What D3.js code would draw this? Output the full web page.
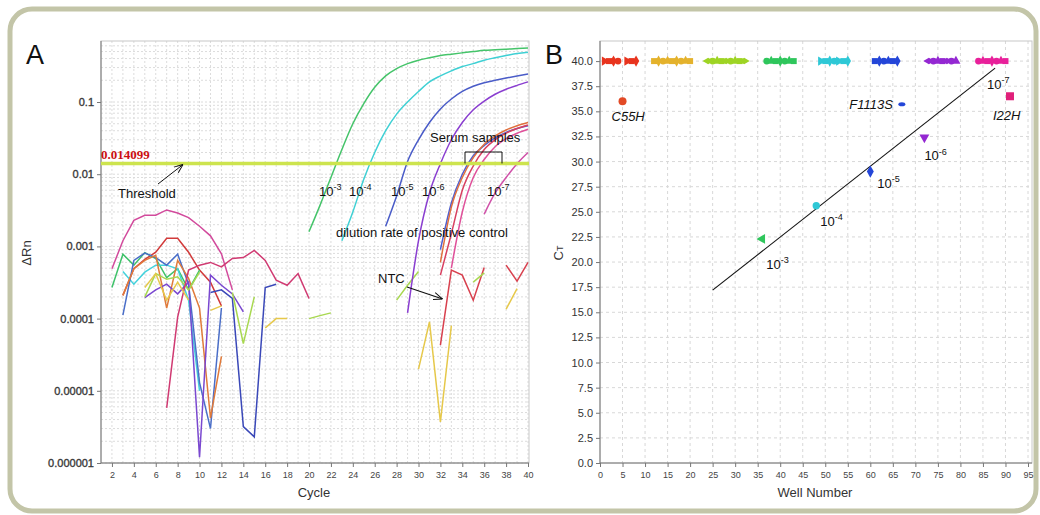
<!DOCTYPE html>
<html>
<head>
<meta charset="utf-8">
<script src="https://cdn.jsdelivr.net/npm/d3@7"></script>
<style>
body { margin: 0; background: #fff; }
svg text { font-family: "Liberation Sans", Arial, sans-serif; }
</style>
</head>
<body>
<svg id="chart" width="1040" height="515"></svg>
<script>
// ---------- panel A data : [cycle, deltaRn] ----------
var thresholdValue = 0.014099;
var ampTicks = [0.1, 0.01, 0.001, 0.0001, 0.00001, 0.000001];
var ampTickLabels = ["0.1", "0.01", "0.001", "0.0001", "0.00001", "0.000001"];
var cycleTicks = [2,4,6,8,10,12,14,16,18,20,22,24,26,28,30,32,34,36,38,40];

var dil3 = [[20,0.0016],[21,0.0037],[22,0.009],[23,0.022],[24,0.05],[25,0.095],[26,0.16],[27,0.23],[28,0.29],[29,0.34],[30,0.38],[31,0.41],[32,0.44],[33,0.46],[34,0.48],[35,0.5],[36,0.52],[37,0.53],[38,0.54],[39,0.55],[40,0.56]];
var dil4 = [[23,0.0012],[24,0.003],[25,0.0085],[26,0.02],[27,0.04],[28,0.068],[29,0.1],[30,0.14],[31,0.19],[32,0.23],[33,0.27],[34,0.31],[35,0.34],[36,0.38],[37,0.41],[38,0.44],[39,0.47],[40,0.49]];
var dil5 = [[27,0.0019],[28,0.005],[29,0.015],[30,0.03],[31,0.052],[32,0.08],[33,0.11],[34,0.14],[35,0.165],[36,0.185],[37,0.2],[38,0.215],[39,0.23],[40,0.245]];
var dil6 = [[29,0.00012],[30,0.0012],[31,0.0055],[32,0.014],[33,0.03],[34,0.052],[35,0.078],[36,0.103],[37,0.128],[38,0.15],[39,0.17],[40,0.19]];
var dil7 = [[36,0.0028],[37,0.0055],[38,0.009],[39,0.014],[40,0.02]];
var serum1 = [[32,0.0009],[33,0.004],[34,0.01],[35,0.018],[36,0.025],[37,0.032],[38,0.038],[39,0.043],[40,0.047]];
var serum2 = [[32,0.0006],[33,0.0035],[34,0.009],[35,0.017],[36,0.026],[37,0.034],[38,0.041],[39,0.047],[40,0.052]];
var serum3 = [[32,0.0004],[33,0.0015],[34,0.006],[35,0.013],[36,0.022],[37,0.03],[38,0.037],[39,0.043],[40,0.048]];
var serum4 = [[33,0.0005],[34,0.003],[35,0.009],[36,0.016],[37,0.024],[38,0.031],[39,0.037],[40,0.042]];

// baseline noise and NTC wells
var noiseMagenta = [[2,0.00049],[3,0.0012],[4,0.0023],[5,0.0027],[6,0.0027],[7,0.0032],[8,0.0029],[9,0.0025],[10,0.0019],[11,0.0014],[12,0.00079],[13,0.00025]];
var noiseCrimson = [[3,0.00021],[4,0.00049],[5,0.00066],[6,0.00083],[7,0.0013],[8,0.0013],[9,0.00083],[10,0.00047],[11,0.00032],[12,0.00015]];
var noiseGreen = [[2,0.00027],[3,0.00078],[4,0.00055],[5,0.00082],[6,0.00068],[7,0.00037],[8,0.00049],[9,0.00025],[10,0.00047]];
var noiseCyan = [[3,0.00045],[4,0.0003],[5,0.00044],[6,0.00055],[7,0.00055],[8,0.00049],[9,0.00018],[10,0.00001]];
var noiseBlue = [[3,0.000112],[4,0.00064],[5,0.00081],[6,0.0007],[7,0.00055],[8,0.00078],[9,0.0003],[10,0.000013],[11,0.000003],[12,0.00014]];
var noiseOrange = [[3,0.00021],[4,0.00049],[5,0.00064],[6,0.00075],[7,0.00014],[8,0.00064],[9,0.00036],[10,0.00014],[11,0.0000042],[12,0.00003]];
var noiseViolet = [[5,0.000195],[6,0.00025],[7,0.0003],[8,0.00022],[9,0.00032],[10,0.0000012],[11,0.0004],[12,0.00029],[13,0.00022],[14,0.000124]];
var noiseNavy = [[11,0.00023],[12,0.00025],[13,0.00019],[14,0.0000032],[15,0.0000023],[16,0.00027],[17,0.0003]];
var noiseLime1 = [[5,0.0002],[6,0.00042],[7,0.00035],[8,0.00038],[9,0.00025],[10,0.00044]];
var noiseLime2 = [[13,0.00023],[14,0.000045],[15,0.0002]];
var noisePink = [[7,0.0000058],[8,0.000105],[9,0.00047],[10,0.00055],[11,0.0006],[12,0.00052],[13,0.00068],[14,0.0007],[15,0.00088],[16,0.00064],[17,0.00034],[18,0.00029],[19,0.00042],[20,0.00019]];
var noiseYellow1 = [[5,0.00027],[6,0.00042],[7,0.00018],[8,0.00032],[9,0.00018]];
var noiseYellow2 = [[11,0.00013],[12,0.00015]];
var noiseYellow3 = [[16,0.000074],[17,0.0001],[18,0.0001]];
var noiseLime3 = [[20,0.0001],[21,0.00011],[22,0.00012]];
var ntcLime1 = [[28,0.00018],[29,0.00029],[30,0.00045]];
var ntcYellow1 = [[30,0.00002],[31,0.00009],[32,0.0000037],[33,0.00008]];
var ntcRed1 = [[32,0.000043],[33,0.00047],[34,0.0004],[35,0.00018],[36,0.00051]];
var ntcLime2 = [[35,0.00032],[36,0.00043]];
var ntcRed2 = [[38,0.00055],[39,0.00033],[40,0.0006]];
var ntcYellow2 = [[38,0.000135],[39,0.00026]];

// ---------- panel B data ----------
var wellTicks = [0,5,10,15,20,25,30,35,40,45,50,55,60,65,70,75,80,85,90,95];
var ctTicks = [0,2.5,5,7.5,10,12.5,15,17.5,20,22.5,25,27.5,30,32.5,35,37.5,40];
var undetCt = 40;
var undetGroups = [
  [1,2,3,4,6,7,8],
  [12,13,14,15,16,17,18,19,20],
  [24,25,26,27,28,29,30,31,32],
  [37,38,39,40,41,42,43],
  [49,50,51,52,53,54,55],
  [61,62,63,64,65,66],
  [73,74,75,76,77,78,79],
  [84,85,86,87,88,89,90]
];
var groupColors = ["#e8341e","#e4b22c","#9ed424","#2fc65c","#2ec8d6","#2446d8","#9428d2","#e8209a"];
var stdWells = [36, 48, 60, 72];
var stdCt = [22.3, 25.6, 29.0, 32.4];
var stdExp = ["-3", "-4", "-5", "-6"];
var mutWells = [5, 67, 91];
var mutCt = [36.0, 35.7, 36.5];
var mutNames = ["C55H", "F1113S", "I22H"];
var fitWells = [25, 87.7];
var fitCt = [17.2, 39.3];

var svg = d3.select("#chart");
var FONT = "'Liberation Sans', Arial, sans-serif";

// outer frame
svg.append("rect")
  .attr("x", 10).attr("y", 9).attr("width", 1026).attr("height", 502)
  .attr("rx", 22).attr("fill", "none")
  .attr("stroke", "#c3c5a8").attr("stroke-width", 5);

// ================= Panel A =================
var xA = d3.scaleLinear().domain([1, 40]).range([101, 528]);
var yA = d3.scaleLog().domain([1e-6, 0.7]).range([463, 41]);

var gA = svg.append("g");

// grid
var minorVals = [];
for (var d = -6; d <= -1; d++) {
  for (var k = 1; k <= 9; k++) {
    var v = k * Math.pow(10, d);
    if (v < 0.7) minorVals.push(v);
  }
}
gA.selectAll(".hgA").data(minorVals).enter().append("line")
  .attr("x1", 101).attr("x2", 529)
  .attr("y1", function(d){ return yA(d); }).attr("y2", function(d){ return yA(d); })
  .attr("stroke", "#dcdcdc").attr("stroke-dasharray", "2,2");
gA.selectAll(".vgA").data(d3.range(2, 41)).enter().append("line")
  .attr("y1", 41).attr("y2", 463)
  .attr("x1", function(d){ return xA(d); }).attr("x2", function(d){ return xA(d); })
  .attr("stroke", "#dcdcdc").attr("stroke-dasharray", "2,2");

// frame
gA.append("rect").attr("x", 101).attr("y", 41).attr("width", 428).attr("height", 422)
  .attr("fill", "none").attr("stroke", "#c8c8c8");
gA.append("line").attr("x1", 101).attr("x2", 101).attr("y1", 41).attr("y2", 463).attr("stroke", "#777");
gA.append("line").attr("x1", 101).attr("x2", 529).attr("y1", 463).attr("y2", 463).attr("stroke", "#777");

// axes
var yAxisA = gA.append("g").attr("transform", "translate(101,0)")
  .call(d3.axisLeft(yA).tickValues(ampTicks).tickFormat(function(d, i){ return ampTickLabels[i]; }).tickSize(4));
yAxisA.attr("font-family", null);
yAxisA.select(".domain").remove();
yAxisA.selectAll("line").attr("stroke", "#777");
yAxisA.selectAll("text").style("font-family", FONT).style("font-size", "11px")
  .attr("fill", "#3a3a3a").attr("stroke", "#3a3a3a").attr("stroke-width", 0.35);

var xAxisA = gA.append("g").attr("transform", "translate(0,463)")
  .call(d3.axisBottom(xA).tickValues(cycleTicks).tickSize(4).tickPadding(5));
xAxisA.attr("font-family", null);
xAxisA.select(".domain").remove();
xAxisA.selectAll("line").attr("stroke", "#777");
xAxisA.selectAll("text").style("font-family", FONT).style("font-size", "9px").attr("fill", "#444");

// curves
var lineA = d3.line()
  .x(function(d){ return xA(d[0]); })
  .y(function(d){ return yA(d[1]); });
var smoothA = d3.line()
  .curve(d3.curveMonotoneX)
  .x(function(d){ return xA(d[0]); })
  .y(function(d){ return yA(d[1]); });

var noiseSeries = [
  [noiseMagenta, "#d24a9c"], [noiseCrimson, "#d23a3a"], [noiseGreen, "#3fc26a"],
  [noiseCyan, "#43d2dc"], [noiseBlue, "#4a6ec8"], [noiseOrange, "#e07a3a"],
  [noiseViolet, "#7a48d0"], [noiseNavy, "#3a48b8"], [noiseLime1, "#a8d850"],
  [noiseLime2, "#a8d850"], [noisePink, "#d03a72"], [noiseYellow1, "#e6c84a"],
  [noiseYellow2, "#e6c84a"], [noiseYellow3, "#e6c84a"], [noiseLime3, "#a8d850"],
  [ntcLime1, "#a8d850"], [ntcYellow1, "#e6c84a"], [ntcRed1, "#d8404e"],
  [ntcLime2, "#a8d850"], [ntcRed2, "#d8404e"], [ntcYellow2, "#e6c84a"]
];
var ampSeries = [
  [dil3, "#45c46a"], [dil4, "#3fd0d4"], [dil5, "#4a5cc8"], [dil6, "#8a3ed0"],
  [serum1, "#4f5fd0"], [serum2, "#e0703e"], [serum3, "#d84060"], [serum4, "#e0509a"],
  [dil7, "#d050a8"]
];

var clipA = svg.append("clipPath").attr("id", "clipA");
clipA.append("rect").attr("x", 101).attr("y", 41).attr("width", 428).attr("height", 422);
var curvesA = gA.append("g").attr("clip-path", "url(#clipA)");

curvesA.selectAll(".noise").data(noiseSeries).enter().append("path")
  .attr("d", function(s){ return lineA(s[0]); })
  .attr("fill", "none").attr("stroke", function(s){ return s[1]; })
  .attr("stroke-width", 1.5);
curvesA.selectAll(".amp").data(ampSeries).enter().append("path")
  .attr("d", function(s){ return smoothA(s[0]); })
  .attr("fill", "none").attr("stroke", function(s){ return s[1]; })
  .attr("stroke-width", 1.5);

// threshold
gA.append("line")
  .attr("x1", 101).attr("x2", 529)
  .attr("y1", yA(thresholdValue)).attr("y2", yA(thresholdValue))
  .attr("stroke", "#cde44e").attr("stroke-width", 3.5);
gA.append("text").attr("x", 101).attr("y", yA(thresholdValue) - 4)
  .style("font-family", "'Liberation Serif', serif").attr("font-weight", "bold")
  .attr("font-size", 13).attr("fill", "#cc1010").text("0.014099");

// arrow marker
var defs = svg.append("defs");
defs.append("marker").attr("id", "arr").attr("viewBox", "0 0 10 10")
  .attr("refX", 10).attr("refY", 5).attr("markerWidth", 9).attr("markerHeight", 9)
  .attr("orient", "auto").attr("markerUnits", "userSpaceOnUse")
  .append("path").attr("d", "M0,1 L10,5 L0,9").attr("fill", "none").attr("stroke", "#111").attr("stroke-width", 1.1);

gA.append("line").attr("x1", 158).attr("y1", 184).attr("x2", xA(8.5)).attr("y2", yA(thresholdValue) + 1)
  .attr("stroke", "#111").attr("stroke-width", 1).attr("marker-end", "url(#arr)");
gA.append("text").attr("x", 118).attr("y", 198).attr("font-size", 13).attr("fill", "#111").text("Threshold");

// dilution labels A
function supLabel(g, x, y, exp, size) {
  var t = g.append("text").attr("x", x).attr("y", y).attr("font-size", size).attr("fill", "#111");
  t.append("tspan").text("10");
  t.append("tspan").attr("dy", -size * 0.45).attr("font-size", size * 0.7).text(exp);
  return t;
}
supLabel(gA, 319, 196, "-3", 13);
supLabel(gA, 349, 196, "-4", 13);
supLabel(gA, 391, 196, "-5", 13);
supLabel(gA, 422, 196, "-6", 13);
supLabel(gA, 487, 196, "-7", 13);

gA.append("text").attr("x", 336).attr("y", 237).attr("font-size", 13).attr("fill", "#111")
  .text("dilution rate of positive control");
gA.append("text").attr("x", 430).attr("y", 142).attr("font-size", 13).attr("fill", "#111")
  .text("Serum samples");
gA.append("path").attr("d", "M465," + yA(thresholdValue) + " V152 H502 V" + yA(thresholdValue))
  .attr("fill", "none").attr("stroke", "#111").attr("stroke-width", 1);

gA.append("text").attr("x", 378).attr("y", 283).attr("font-size", 13).attr("fill", "#111").text("NTC");
gA.append("line").attr("x1", 407).attr("y1", 287).attr("x2", xA(32.2)).attr("y2", 299)
  .attr("stroke", "#111").attr("stroke-width", 1.2).attr("marker-end", "url(#arr)");

gA.append("text").attr("x", 31).attr("y", 253).attr("transform", "rotate(-90,31,253)")
  .attr("text-anchor", "middle").attr("font-size", 13).attr("fill", "#333").text("\u0394Rn");
gA.append("text").attr("x", 314).attr("y", 497).attr("text-anchor", "middle")
  .attr("font-size", 13).attr("fill", "#333").text("Cycle");
svg.append("text").attr("x", 26).attr("y", 64).attr("font-size", 27).attr("fill", "#111").text("A");

// ================= Panel B =================
var xB = d3.scaleLinear().domain([0, 95]).range([600, 1028]);
var yB = d3.scaleLinear().domain([0, 42]).range([463, 41]);
var gB = svg.append("g");

gB.selectAll(".vgB").data(wellTicks.slice(1)).enter().append("line")
  .attr("x1", function(d){ return xB(d); }).attr("x2", function(d){ return xB(d); })
  .attr("y1", 41).attr("y2", 463).attr("stroke", "#d8d8d8").attr("stroke-dasharray", "3,3");
gB.selectAll(".hgB").data(ctTicks.slice(1)).enter().append("line")
  .attr("y1", function(d){ return yB(d); }).attr("y2", function(d){ return yB(d); })
  .attr("x1", 600).attr("x2", 1032).attr("stroke", "#d8d8d8").attr("stroke-dasharray", "3,3");

gB.append("rect").attr("x", 600).attr("y", 41).attr("width", 432).attr("height", 422)
  .attr("fill", "none").attr("stroke", "#c8c8c8");
gB.append("line").attr("x1", 600).attr("x2", 600).attr("y1", 41).attr("y2", 463).attr("stroke", "#777");
gB.append("line").attr("x1", 600).attr("x2", 1032).attr("y1", 463).attr("y2", 463).attr("stroke", "#777");

var yAxisB = gB.append("g").attr("transform", "translate(600,0)")
  .call(d3.axisLeft(yB).tickValues(ctTicks).tickFormat(d3.format(".1f")).tickSize(4));
yAxisB.attr("font-family", null);
yAxisB.select(".domain").remove();
yAxisB.selectAll("line").attr("stroke", "#777");
yAxisB.selectAll("text").style("font-family", FONT).style("font-size", "11px").attr("fill", "#333");

var xAxisB = gB.append("g").attr("transform", "translate(0,463)")
  .call(d3.axisBottom(xB).tickValues(wellTicks).tickSize(4).tickPadding(5));
xAxisB.attr("font-family", null);
xAxisB.select(".domain").remove();
xAxisB.selectAll("line").attr("stroke", "#777");
xAxisB.selectAll("text").style("font-family", FONT).style("font-size", "9px").attr("fill", "#444");

// undetermined wells on the top row
var shapes = [d3.symbolTriangle, d3.symbolSquare, d3.symbolDiamond, d3.symbolCircle];
var topPts = [];
undetGroups.forEach(function(grp, gi){
  grp.forEach(function(w, i){ topPts.push({well: w, color: groupColors[gi], shape: shapes[(i + gi) % 4], rot: (i % 4 === 0) ? 90 : 0}); });
});
gB.selectAll(".top").data(topPts).enter().append("path")
  .attr("d", function(d){ return d3.symbol().type(d.shape).size(36)(); })
  .attr("transform", function(d){ return "translate(" + xB(d.well) + "," + yB(undetCt) + ") rotate(" + d.rot + ")"; })
  .attr("fill", function(d){ return d.color; });

// standard curve fit
gB.append("line")
  .attr("x1", xB(fitWells[0])).attr("y1", yB(fitCt[0]))
  .attr("x2", xB(fitWells[1])).attr("y2", yB(fitCt[1]))
  .attr("stroke", "#111").attr("stroke-width", 1.1);

// standards
var stdShapes = [d3.symbolTriangle, d3.symbolCircle, d3.symbolDiamond, d3.symbolTriangle];
var stdRot = [-90, 0, 0, 180];
var stdColors = ["#2fc65c", "#2ec8d6", "#2446d8", "#9428d2"];
var stdDx = [4, 4, 7, 0];
var stdDy = [30, 20, 16, 23];
stdWells.forEach(function(w, i){
  gB.append("path").attr("d", d3.symbol().type(stdShapes[i]).size(42)())
    .attr("transform", "translate(" + xB(w) + "," + yB(stdCt[i]) + ") rotate(" + stdRot[i] + ")")
    .attr("fill", stdColors[i]);
  supLabel(gB, xB(w) + stdDx[i], yB(stdCt[i]) + stdDy[i], stdExp[i], 13);
});
supLabel(gB, xB(fitWells[1]) - 8, yB(fitCt[1]) + 21, "-7", 13);

// mutants
gB.append("circle").attr("cx", xB(mutWells[0])).attr("cy", yB(mutCt[0])).attr("r", 4).attr("fill", "#e24a26");
gB.append("ellipse").attr("cx", xB(mutWells[1])).attr("cy", yB(mutCt[1])).attr("rx", 3.5).attr("ry", 2).attr("fill", "#2446d8");
gB.append("rect").attr("x", xB(mutWells[2]) - 4).attr("y", yB(mutCt[2]) - 4).attr("width", 8).attr("height", 8).attr("fill", "#e0207a");
gB.append("text").attr("x", xB(mutWells[0]) - 11).attr("y", yB(mutCt[0]) + 20)
  .attr("font-size", 13).attr("font-style", "italic").attr("fill", "#111").text(mutNames[0]);
gB.append("text").attr("x", xB(mutWells[1]) - 9).attr("y", yB(mutCt[1]) + 5).attr("text-anchor", "end")
  .attr("font-size", 13).attr("font-style", "italic").attr("fill", "#111").text(mutNames[1]);
gB.append("text").attr("x", xB(mutWells[2]) - 17).attr("y", yB(mutCt[2]) + 24)
  .attr("font-size", 13).attr("font-style", "italic").attr("fill", "#111").text(mutNames[2]);

// labels B
var ctLab = gB.append("text").attr("x", 563).attr("y", 253).attr("transform", "rotate(-90,563,253)")
  .attr("text-anchor", "middle").attr("font-size", 13).attr("fill", "#333");
ctLab.append("tspan").text("C");
ctLab.append("tspan").attr("font-size", 9).text("T");
gB.append("text").attr("x", 815).attr("y", 497).attr("text-anchor", "middle")
  .attr("font-size", 13).attr("fill", "#333").text("Well Number");
svg.append("text").attr("x", 545).attr("y", 64).attr("font-size", 27).attr("fill", "#111").text("B");
</script>
</body>
</html>
